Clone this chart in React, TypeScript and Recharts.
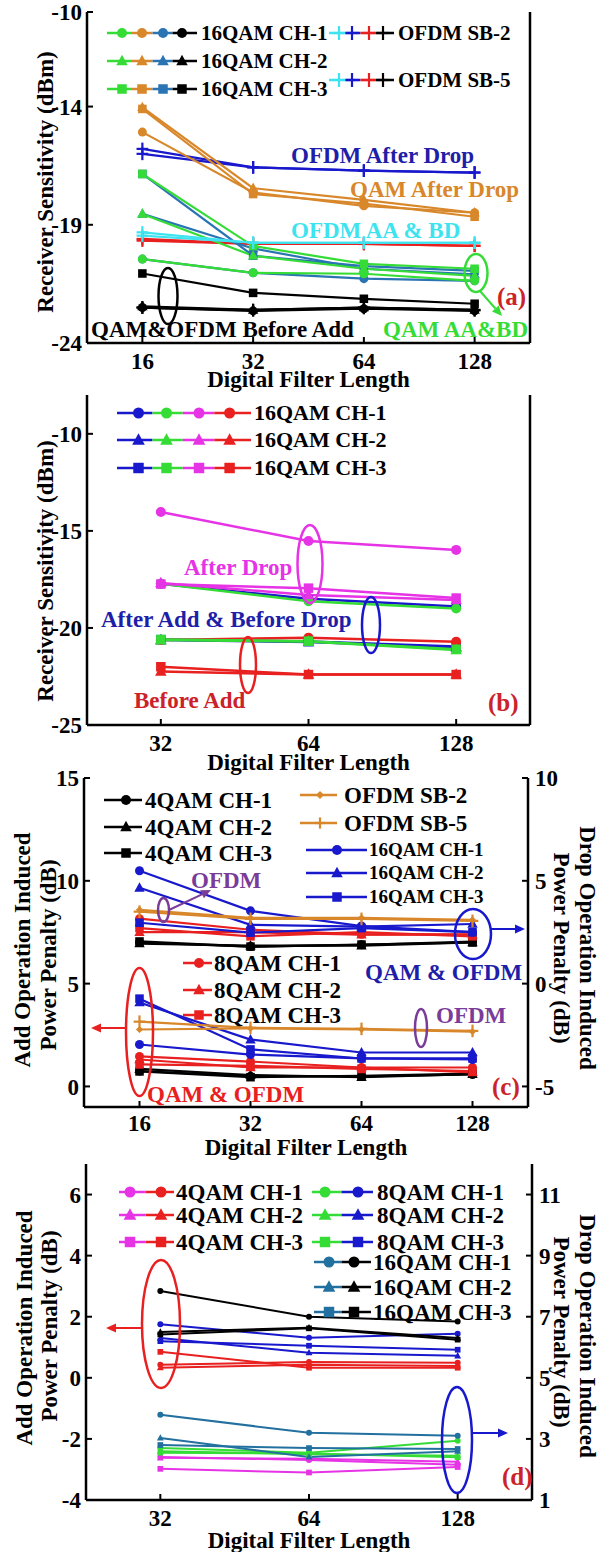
import React from 'react';
import { LineChart, Line, XAxis, YAxis } from 'recharts';

const FONT = "'Liberation Serif', 'Times New Roman', Times, serif";

// ---------- (a) receiver sensitivity, 16..128 taps ----------
const lenA = ['16', '32', '64', '128'];
const ticksA = [-24, -19, -14, -10];
// QAM rows are CH-1, CH-2, CH-3
const aQamAABD = [
  [-20.45, -21.03, -21.07, -21.37],
  [-18.54, -20.31, -20.86, -21.16],
  [-16.85, -19.9, -20.65, -20.86],
];
const aQamAfterDrop = [
  [-15.08, -17.63, -18.2, -18.49],
  [-14.03, -17.45, -17.95, -18.49],
  [-14.1, -17.7, -18.1, -18.66],
];
const aQamSteel = [
  [-20.45, -21.03, -21.28, -21.37],
  [-18.54, -20.0, -20.86, -21.1],
  [-16.85, -20.31, -20.75, -20.95],
];
const aQamBeforeAdd = [
  [-22.5, -22.64, -22.55, -22.64],
  [-22.45, -22.6, -22.5, -22.6],
  [-21.06, -21.88, -22.13, -22.34],
];
// OFDM rows are SB-2, SB-5
const aOfdmAABD = [
  [-19.32, -19.76, -19.76, -19.76],
  [-19.46, -19.76, -19.76, -19.76],
];
const aOfdmAfterDrop = [
  [-15.79, -16.57, -16.71, -16.79],
  [-16.0, -16.57, -16.71, -16.79],
];
const aOfdmRed = [
  [-19.67, -19.81, -19.81, -19.89],
  [-19.6, -19.81, -19.81, -19.89],
];
const aOfdmBeforeAdd = [
  [-22.5, -22.6, -22.5, -22.6],
  [-22.5, -22.62, -22.52, -22.62],
];

// ---------- (b) receiver sensitivity, 32..128 taps ----------
const lenB = ['32', '64', '128'];
const ticksB = [-25, -20, -15, -10];
const bBlue = [
  [-17.72, -18.5, -18.9],
  [-20.62, -20.72, -21.0],
  [-20.6, -20.7, -20.95],
];
const bGreen = [
  [-17.72, -18.62, -19.0],
  [-20.62, -20.7, -21.14],
  [-20.6, -20.68, -21.1],
];
const bMagenta = [
  [-14.03, -15.52, -15.98],
  [-17.69, -18.3, -18.56],
  [-17.74, -17.95, -18.46],
];
const bRed = [
  [-20.62, -20.5, -20.71],
  [-22.25, -22.4, -22.4],
  [-22.0, -22.4, -22.4],
];

// ---------- (c) power penalty, 16..128 taps ----------
const lenC = ['16', '32', '64', '128'];
const ticksCL = [0, 5, 10, 15];
const ticksCR = [-5, 0, 5, 10];
const cAdd4 = [
  [0.75, 0.49, 0.49, 0.58],
  [0.85, 0.55, 0.45, 0.6],
  [0.73, 0.45, 0.52, 0.62],
];
const cAddOfdm = [
  [2.77, 2.82, 2.77, 2.67],
  [3.15, 2.85, 2.8, 2.7],
];
const cAdd16 = [
  [2.04, 1.55, 1.36, 1.31],
  [4.08, 2.28, 1.65, 1.65],
  [4.27, 1.8, 1.36, 1.36],
];
const cAdd8 = [
  [1.46, 1.21, 0.92, 0.92],
  [1.31, 0.92, 0.92, 0.68],
  [1.07, 1.0, 0.85, 0.75],
];
const cDrop4 = [
  [2.0, 1.8, 1.89, 2.04],
  [1.95, 1.85, 1.85, 2.0],
  [2.05, 1.8, 1.9, 2.0],
];
const cDropOfdm = [
  [3.59, 3.2, 3.2, 3.1],
  [3.5, 3.15, 3.15, 3.05],
];
const cDrop16 = [
  [5.49, 3.54, 2.8, 2.5],
  [4.66, 2.86, 2.77, 2.9],
  [2.96, 2.48, 2.7, 2.5],
];
const cDrop8 = [
  [3.16, 2.62, 2.4, 2.4],
  [2.5, 2.5, 2.38, 2.38],
  [2.7, 2.3, 2.5, 2.3],
];

// ---------- (d) power penalty, 32..128 taps ----------
const lenD = ['32', '64', '128'];
const ticksDL = [-4, -2, 0, 2, 4, 6];
const ticksDR = [1, 3, 5, 7, 9, 11];
const dAdd4 = [
  [0.43, 0.52, 0.49],
  [0.33, 0.43, 0.39],
  [0.85, 0.33, 0.33],
];
const dAdd8 = [
  [1.75, 1.31, 1.44],
  [1.3, 0.82, 0.72],
  [1.2, 1.05, 0.92],
];
const dAdd16 = [
  [2.84, 2.0, 1.84],
  [1.5, 1.64, 1.3],
  [1.42, 1.62, 1.25],
];
const dDrop4 = [
  [2.41, 2.31, 2.15],
  [2.38, 2.35, 2.25],
  [2.02, 1.9, 2.08],
];
const dDrop8 = [
  [2.7, 2.55, 2.94],
  [2.6, 2.5, 2.45],
  [2.55, 2.52, 2.4],
];
const dDrop16 = [
  [3.79, 3.2, 3.1],
  [3.03, 2.41, 2.6],
  [2.8, 2.7, 2.67],
];

const GREEN = '#36dc36';
const ORANGE = '#d8872a';
const STEEL = '#2a74b4';
const STEEL_D = '#22709f';
const CYAN = '#3ee3f0';
const BLUE = '#1818cc';
const RED = '#e82020';
const MAGENTA = '#e633e6';
const PURPLE = '#7a3c98';
const TXT_RED = '#cc2229';
const TXT_BLUE = '#1e1ea8';

type Shape = 'circle' | 'triangle' | 'square' | 'plus' | 'diamond';
type S = { key: string; vals: number[]; color: string; shape: Shape; axis: string };

const CH: Shape[] = ['circle', 'triangle', 'square'];
const SB: Shape[] = ['plus', 'plus'];

const grp = (prefix: string, rows: number[][], color: string, shapes: Shape[], axis = 'L'): S[] =>
  rows.map((vals, i) => ({ key: prefix + i, vals, color, shape: shapes[i], axis }));

function Marker({ shape, x, y, r, color }: { shape: Shape; x: number; y: number; r: number; color: string }) {
  switch (shape) {
    case 'circle':
      return <circle cx={x} cy={y} r={r} fill={color} />;
    case 'triangle':
      return <polygon points={`${x},${y - r * 1.25} ${x - r * 1.15},${y + r * 0.85} ${x + r * 1.15},${y + r * 0.85}`} fill={color} />;
    case 'square':
      return <rect x={x - r * 0.95} y={y - r * 0.95} width={r * 1.9} height={r * 1.9} fill={color} />;
    case 'diamond':
      return <polygon points={`${x},${y - r} ${x + r},${y} ${x},${y + r} ${x - r},${y}`} fill={color} />;
    default:
      return (
        <g stroke={color} strokeWidth={2.2}>
          <line x1={x - r * 1.3} y1={y} x2={x + r * 1.3} y2={y} />
          <line x1={x} y1={y - r * 1.4} x2={x} y2={y + r * 1.4} />
        </g>
      );
  }
}

const makeDot = (shape: Shape, color: string, r: number) => (p: any) => (
  <g key={p.key ?? p.index}>
    {p.cx != null && p.cy != null ? <Marker shape={shape} x={p.cx} y={p.cy} r={r} color={color} /> : null}
  </g>
);

type PanelProps = {
  top: number;
  height: number;
  plot: { l: number; r: number; t: number; b: number };
  cats: string[];
  series: S[];
  left: { domain: number[]; ticks: number[] };
  right: { domain: number[]; ticks: number[]; labels: boolean };
  lw: number;
  r: number;
  xTickMargin: number;
};

function Panel(p: PanelProps) {
  const data = p.cats.map((x, i) => {
    const row: Record<string, any> = { x };
    p.series.forEach((s) => (row[s.key] = s.vals[i]));
    return row;
  });
  // half a category band on each side, as in the source figure
  const half = (p.plot.r - p.plot.l) / p.cats.length / 2;
  const pad = { left: half, right: half };
  const axisLine = { stroke: '#000', strokeWidth: 2.5 };
  const tickLine = { stroke: '#000', strokeWidth: 2 };
  const tickFont = { fill: '#000', fontSize: 23, fontWeight: 700, fontFamily: FONT };
  return (
    <div style={{ position: 'absolute', left: 0, top: p.top }}>
      <LineChart
        width={600}
        height={p.height}
        data={data}
        margin={{ top: p.plot.t - p.top, right: 0, bottom: 0, left: 0 }}
      >
        <XAxis
          dataKey="x"
          interval={0}
          padding={pad}
          height={p.top + p.height - p.plot.b}
          tickSize={-6}
          tickMargin={p.xTickMargin}
          axisLine={axisLine}
          tickLine={tickLine}
          tick={tickFont}
        />
        <XAxis
          xAxisId="t"
          dataKey="x"
          orientation="top"
          interval={0}
          padding={pad}
          height={0}
          tickSize={-6}
          axisLine={axisLine}
          tickLine={tickLine}
          tick={false}
        />
        <YAxis
          yAxisId="L"
          type="number"
          domain={p.left.domain}
          ticks={p.left.ticks}
          interval={0}
          width={p.plot.l}
          tickSize={-6}
          tickMargin={11}
          axisLine={axisLine}
          tickLine={tickLine}
          tick={tickFont}
        />
        <YAxis
          yAxisId="R"
          type="number"
          orientation="right"
          domain={p.right.domain}
          ticks={p.right.ticks}
          interval={0}
          width={600 - p.plot.r}
          tickSize={-6}
          tickMargin={13}
          axisLine={axisLine}
          tickLine={tickLine}
          tick={p.right.labels ? { ...tickFont, textAnchor: 'start' } : false}
        />
        {p.series.map((s) => (
          <Line
            key={s.key}
            yAxisId={s.axis}
            dataKey={s.key}
            type="linear"
            stroke={s.color}
            strokeWidth={p.lw}
            dot={makeDot(s.shape, s.color, s.shape === 'diamond' ? p.r * 0.8 : p.r)}
            activeDot={false}
            isAnimationActive={false}
          />
        ))}
      </LineChart>
    </div>
  );
}

function LegendItem({ y, x0, x1, marks, colors, shape, r, label, tx, fs }: {
  y: number; x0: number; x1: number; marks: number[]; colors: string[]; shape: Shape; r: number; label: string; tx: number; fs: number;
}) {
  const bounds = [x0, ...marks.slice(0, -1).map((m, i) => (m + marks[i + 1]) / 2), x1];
  return (
    <g>
      {colors.map((c, i) => (
        <line key={'l' + i} x1={bounds[i]} x2={bounds[i + 1]} y1={y} y2={y} stroke={c} strokeWidth={2.5} />
      ))}
      {colors.map((c, i) => (
        <Marker key={'m' + i} shape={shape} x={marks[i]} y={y} r={r} color={c} />
      ))}
      <text x={tx} y={y + fs * 0.33} fontSize={fs} fill="#000">{label}</text>
    </g>
  );
}

function Arrow({ x1, y1, x2, y2, color }: { x1: number; y1: number; x2: number; y2: number; color: string }) {
  const a = Math.atan2(y2 - y1, x2 - x1);
  const h = 10;
  const w = 4.5;
  const bx = x2 - h * Math.cos(a);
  const by = y2 - h * Math.sin(a);
  const px = -Math.sin(a) * w;
  const py = Math.cos(a) * w;
  return (
    <g>
      <line x1={x1} y1={y1} x2={bx} y2={by} stroke={color} strokeWidth={2} />
      <polygon points={`${x2},${y2} ${bx + px},${by + py} ${bx - px},${by - py}`} fill={color} />
    </g>
  );
}

const Ell = ({ cx, cy, rx, ry, color }: { cx: number; cy: number; rx: number; ry: number; color: string }) => (
  <ellipse cx={cx} cy={cy} rx={rx} ry={ry} fill="none" stroke={color} strokeWidth={2.5} />
);

const Label = ({ x, y, color, children, fs = 23 }: { x: number; y: number; color: string; children: string; fs?: number }) => (
  <text x={x} y={y} fill={color} fontSize={fs}>{children}</text>
);

const VText = ({ x, y, rot, children }: { x: number; y: number; rot: number; children: string }) => (
  <text transform={`translate(${x},${y}) rotate(${rot})`} textAnchor="middle" dominantBaseline="central" fontSize={23} fill="#000">
    {children}
  </text>
);

function Overlay() {
  const chLabels = ['CH-1', 'CH-2', 'CH-3'];
  return (
    <svg
      width={600}
      height={1552}
      style={{ position: 'absolute', left: 0, top: 0, pointerEvents: 'none' }}
      fontFamily={FONT}
      fontWeight={700}
    >
      {/* axis titles */}
      <VText x={45} y={182} rot={-90}>Receiver Sensitivity (dBm)</VText>
      <VText x={45} y={571} rot={-90}>Receiver Sensitivity (dBm)</VText>
      <VText x={22} y={950} rot={-90}>Add Operation Induced</VText>
      <VText x={48} y={955} rot={-90}>Power Penalty (dB)</VText>
      <VText x={561} y={948} rot={90}>Power Penalty (dB)</VText>
      <VText x={587} y={948} rot={90}>Drop Operation Induced</VText>
      <VText x={24} y={1328} rot={-90}>Add Operation Induced</VText>
      <VText x={49} y={1326} rot={-90}>Power Penalty (dB)</VText>
      <VText x={561} y={1332} rot={90}>Power Penalty (dB)</VText>
      <VText x={587} y={1336} rot={90}>Drop Operation Induced</VText>
      {[
        [308.5, 387],
        [308.5, 770],
        [306, 1155],
        [309, 1548],
      ].map(([x, y], i) => (
        <text key={'xt' + i} x={x} y={y} textAnchor="middle" fontSize={23} fill="#000">Digital Filter Length</text>
      ))}

      {/* (a) legend */}
      {[33, 61, 89].map((y, i) => (
        <LegendItem key={'la' + i} y={y} x0={107} x1={197} marks={[122, 142, 163, 182]}
          colors={[GREEN, ORANGE, STEEL, '#000']} shape={CH[i]} r={5} label={'16QAM ' + chLabels[i]} tx={201} fs={21} />
      ))}
      {[33, 80].map((y, i) => (
        <LegendItem key={'lo' + i} y={y} x0={329} x1={394} marks={[339, 352, 369, 383]}
          colors={[CYAN, BLUE, RED, '#000']} shape="plus" r={5} label={i ? 'OFDM SB-5' : 'OFDM SB-2'} tx={398} fs={21} />
      ))}
      <Label x={291} y={163} color={TXT_BLUE}>OFDM After Drop</Label>
      <Label x={350} y={197} color={ORANGE}>QAM After Drop</Label>
      <Label x={291} y={238} color={CYAN}>OFDM AA &amp; BD</Label>
      <Label x={91} y={337} color="#000">QAM&amp;OFDM Before Add</Label>
      <Label x={383} y={337} color={GREEN}>QAM AA&amp;BD</Label>
      <Label x={497} y={305} color={TXT_RED} fs={25}>(a)</Label>
      <Ell cx={168} cy={296} rx={9.5} ry={28} color="#000" />
      <Ell cx={476} cy={273} rx={11.5} ry={19} color={GREEN} />
      <Arrow x1={480} y1={291} x2={502} y2={316} color={GREEN} />

      {/* (b) legend */}
      {[413, 440, 468].map((y, i) => (
        <LegendItem key={'lb' + i} y={y} x0={117} x1={251} marks={[138.5, 166.5, 199, 229.6]}
          colors={[BLUE, GREEN, MAGENTA, RED]} shape={CH[i]} r={5.5} label={'16QAM ' + chLabels[i]} tx={254} fs={22} />
      ))}
      <Label x={184} y={575} color={MAGENTA}>After Drop</Label>
      <Label x={101} y={627} color={TXT_BLUE}>After Add &amp; Before Drop</Label>
      <Label x={134} y={708} color={TXT_RED}>Before Add</Label>
      <Label x={488} y={711} color={TXT_RED} fs={25}>(b)</Label>
      <Ell cx={310} cy={564} rx={12.5} ry={39} color={MAGENTA} />
      <Ell cx={371} cy={625} rx={9} ry={28} color={BLUE} />
      <Ell cx={248} cy={665} rx={8} ry={28} color={RED} />

      {/* (c) legend */}
      {[800, 827, 853].map((y, i) => (
        <LegendItem key={'lc4' + i} y={y} x0={104} x1={142} marks={[126]} colors={['#000']}
          shape={CH[i]} r={5} label={'4QAM ' + chLabels[i]} tx={145} fs={23} />
      ))}
      <LegendItem y={795} x0={300} x1={337} marks={[320]} colors={[ORANGE]} shape="diamond" r={4}
        label="OFDM SB-2" tx={344} fs={23} />
      <LegendItem y={823} x0={300} x1={337} marks={[320]} colors={[ORANGE]} shape="plus" r={4}
        label="OFDM SB-5" tx={344} fs={23} />
      {[850, 873, 897].map((y, i) => (
        <LegendItem key={'lc16' + i} y={y} x0={306} x1={367} marks={[337]} colors={[BLUE]}
          shape={CH[i]} r={5} label={'16QAM ' + chLabels[i]} tx={369} fs={19} />
      ))}
      {[963, 990, 1015].map((y, i) => (
        <LegendItem key={'lc8' + i} y={y} x0={183} x1={212} marks={[199]} colors={[RED]}
          shape={CH[i]} r={5} label={'8QAM ' + chLabels[i]} tx={214} fs={23} />
      ))}
      <Label x={191} y={888} color={PURPLE}>OFDM</Label>
      <Ell cx={163.5} cy={910} rx={5.5} ry={12} color={PURPLE} />
      <Arrow x1={169} y1={910} x2={211} y2={890} color={PURPLE} />
      <Label x={365} y={980} color={TXT_BLUE}>QAM &amp; OFDM</Label>
      <Ell cx={473} cy={934} rx={18} ry={25} color={BLUE} />
      <Arrow x1={491} y1={929} x2={525} y2={929} color={BLUE} />
      <Ell cx={139.5} cy={1032} rx={13.5} ry={64} color={RED} />
      <Arrow x1={126} y1={1028} x2={91} y2={1028} color={RED} />
      <Label x={147} y={1102} color={RED}>QAM &amp; OFDM</Label>
      <Ell cx={421} cy={1028} rx={6} ry={19} color={PURPLE} />
      <Label x={436} y={1023} color={PURPLE}>OFDM</Label>
      <Label x={492} y={1095} color={TXT_RED} fs={25}>(c)</Label>

      {/* (d) legend */}
      {[1192, 1215, 1242].map((y, i) => (
        <LegendItem key={'ld4' + i} y={y} x0={119} x1={174} marks={[130, 161]} colors={[MAGENTA, RED]}
          shape={CH[i]} r={5.5} label={'4QAM ' + chLabels[i]} tx={176} fs={23} />
      ))}
      {[1192, 1215, 1242].map((y, i) => (
        <LegendItem key={'ld8' + i} y={y} x0={312} x1={373} marks={[325, 358]} colors={[GREEN, BLUE]}
          shape={CH[i]} r={5.5} label={'8QAM ' + chLabels[i]} tx={377} fs={23} />
      ))}
      {[1262, 1287, 1312].map((y, i) => (
        <LegendItem key={'ld16' + i} y={y} x0={314} x1={371} marks={[329, 354]} colors={[STEEL_D, '#000']}
          shape={CH[i]} r={5.5} label={'16QAM ' + chLabels[i]} tx={373} fs={23} />
      ))}
      <Ell cx={161} cy={1324} rx={19} ry={64} color={RED} />
      <Arrow x1={142} y1={1328} x2={106} y2={1328} color={RED} />
      <Ell cx={457} cy={1440} rx={15} ry={53} color={BLUE} />
      <Arrow x1={472} y1={1433} x2={508} y2={1433} color={BLUE} />
      <Label x={502} y={1485} color={TXT_RED} fs={25}>(d)</Label>
    </svg>
  );
}

const seriesA: S[] = [
  ...grp('aob', aOfdmBeforeAdd, '#000', SB),
  ...grp('aqb', aQamBeforeAdd, '#000', CH),
  ...grp('aor', aOfdmRed, RED, SB),
  ...grp('aqs', aQamSteel, STEEL, CH),
  ...grp('aqg', aQamAABD, GREEN, CH),
  ...grp('aoc', aOfdmAABD, CYAN, SB),
  ...grp('aod', aOfdmAfterDrop, BLUE, SB),
  ...grp('aqo', aQamAfterDrop, ORANGE, CH),
];

const seriesB: S[] = [
  ...grp('bb', bBlue, BLUE, CH),
  ...grp('br', bRed, RED, CH),
  ...grp('bg', bGreen, GREEN, CH),
  ...grp('bm', bMagenta, MAGENTA, CH),
];

const OF: Shape[] = ['diamond', 'plus'];
const seriesC: S[] = [
  ...grp('ca4', cAdd4, '#000', CH),
  ...grp('ca8', cAdd8, RED, CH),
  ...grp('ca16', cAdd16, BLUE, CH),
  ...grp('cao', cAddOfdm, ORANGE, OF),
  ...grp('cd4', cDrop4, '#000', CH, 'R'),
  ...grp('cd8', cDrop8, RED, CH, 'R'),
  ...grp('cd16', cDrop16, BLUE, CH, 'R'),
  ...grp('cdo', cDropOfdm, ORANGE, OF, 'R'),
];

const seriesD: S[] = [
  ...grp('dd4', dDrop4, MAGENTA, CH, 'R'),
  ...grp('dd8', dDrop8, GREEN, CH, 'R'),
  ...grp('dd16', dDrop16, STEEL_D, CH, 'R'),
  ...grp('da4', dAdd4, RED, CH),
  ...grp('da8', dAdd8, BLUE, CH),
  ...grp('da16', dAdd16, '#000', CH),
];

export default function App() {
  return (
    <div style={{ position: 'absolute', left: 0, top: 0, width: 600, height: 1552, background: '#fff' }}>
      <Panel top={0} height={390} plot={{ l: 87, r: 530, t: 12, b: 343 }} cats={lenA} series={seriesA}
        left={{ domain: [-24, -10], ticks: ticksA }} right={{ domain: [-24, -10], ticks: ticksA, labels: false }}
        lw={2.2} r={4.5} xTickMargin={16} />
      <Panel top={390} height={385} plot={{ l: 87, r: 530, t: 395, b: 725 }} cats={lenB} series={seriesB}
        left={{ domain: [-25, -8], ticks: ticksB }} right={{ domain: [-25, -8], ticks: ticksB, labels: false }}
        lw={2.5} r={5} xTickMargin={16} />
      <Panel top={762} height={398} plot={{ l: 84, r: 528, t: 778, b: 1107 }} cats={lenC} series={seriesC}
        left={{ domain: [-1, 15], ticks: ticksCL }} right={{ domain: [-6, 10], ticks: ticksCR, labels: true }}
        lw={2.2} r={4.5} xTickMargin={14} />
      <Panel top={1160} height={392} plot={{ l: 86, r: 532, t: 1164, b: 1500 }} cats={lenD} series={seriesD}
        left={{ domain: [-4, 7], ticks: ticksDL }} right={{ domain: [1, 12], ticks: ticksDR, labels: true }}
        lw={2} r={3} xTickMargin={16} />
      <Overlay />
    </div>
  );
}
